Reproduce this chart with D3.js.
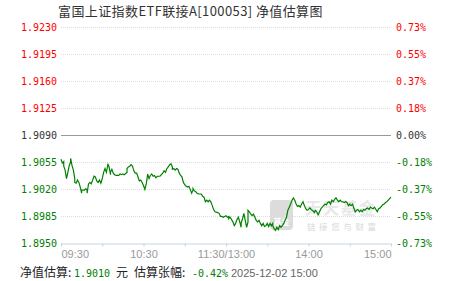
<!DOCTYPE html>
<html>
<head>
<meta charset="utf-8">
<script src="https://cdn.jsdelivr.net/npm/d3@7"></script>
<style>
  body { margin: 0; background: #fff; }
  .mono { font-family: "DejaVu Sans Mono", "Liberation Mono", monospace; }
  .cjk { font-family: "Noto Sans CJK SC", "Noto Sans", sans-serif; }
</style>
</head>
<body>
<div id="chart"></div>
<script>
// chart data
var title = "富国上证指数ETF联接A[100053] 净值估算图";
var baseNav = 1.9090;
var yTicks = [1.8950, 1.8985, 1.9020, 1.9055, 1.9090, 1.9125, 1.9160, 1.9195, 1.9230];
var xTicks = [0, 30, 60, 90, 120, 150, 180, 210, 240];
var xLabels = {0: "09:30", 60: "10:30", 120: "11:30/13:00", 180: "14:00", 240: "15:00"};

// trading minute since 09:30 (lunch break removed)
var minutes = [0,1,2,2,3,4,5,6,7,7,8,9,10,10,11,12,13,14,15,15,17,18,19,19,20,21,22,23,24,25,26,27,28,29,30,31,32,33,34,34,35,36,36,37,38,39,40,42,43,44,45,46,48,48,49,50,51,52,53,54,55,56,57,58,59,60,61,62,63,63,64,65,66,67,68,69,70,71,72,73,74,75,76,77,78,79,80,81,81,82,83,84,85,86,87,88,89,90,91,92,93,94,95,96,96,97,98,99,100,101,102,103,104,105,106,107,108,109,110,111,112,114,115,116,117,118,120,121,122,122,123,124,125,126,127,128,129,130,131,131,132,133,134,135,136,136,137,138,139,140,141,142,143,144,145,146,147,148,149,150,151,152,153,154,154,155,156,157,158,159,160,161,162,163,164,165,166,167,168,169,170,171,172,173,174,175,176,177,178,179,180,181,182,184,184,185,186,187,188,189,190,191,192,193,194,195,196,197,198,199,200,201,202,203,204,205,206,207,208,209,210,210,211,212,213,214,215,216,217,218,219,220,221,222,223,224,225,226,227,228,229,230,231,232,233,234,235,236,237,238,239,240];
var nav = [1.9059,1.9054,1.9056,1.9050,1.9045,1.9034,1.9042,1.9051,1.9055,1.9060,1.9051,1.9045,1.9034,1.9029,1.9028,1.9032,1.9029,1.9023,1.9015,1.9019,1.9019,1.9021,1.9019,1.9015,1.9027,1.9029,1.9027,1.9032,1.9037,1.9036,1.9031,1.9029,1.9032,1.9028,1.9034,1.9042,1.9047,1.9042,1.9051,1.9053,1.9049,1.9039,1.9042,1.9046,1.9041,1.9039,1.9038,1.9038,1.9040,1.9039,1.9040,1.9039,1.9042,1.9047,1.9049,1.9050,1.9052,1.9050,1.9044,1.9041,1.9041,1.9036,1.9031,1.9032,1.9029,1.9025,1.9020,1.9027,1.9039,1.9040,1.9034,1.9038,1.9040,1.9037,1.9038,1.9035,1.9037,1.9037,1.9037,1.9039,1.9041,1.9044,1.9042,1.9047,1.9049,1.9052,1.9053,1.9049,1.9046,1.9047,1.9045,1.9047,1.9046,1.9041,1.9038,1.9036,1.9029,1.9026,1.9024,1.9023,1.9024,1.9020,1.9015,1.9019,1.9021,1.9018,1.9017,1.9015,1.9014,1.9014,1.9014,1.9011,1.9010,1.9004,1.9006,1.9004,1.9006,1.9004,1.8999,1.8994,1.8991,1.8990,1.8989,1.8985,1.8985,1.8984,1.8986,1.8984,1.8985,1.8982,1.8984,1.8981,1.8978,1.8973,1.8976,1.8981,1.8984,1.8978,1.8971,1.8976,1.8982,1.8989,1.8980,1.8971,1.8978,1.8993,1.8991,1.8988,1.8986,1.8988,1.8984,1.8980,1.8978,1.8980,1.8976,1.8973,1.8976,1.8972,1.8973,1.8976,1.8972,1.8976,1.8973,1.8976,1.8973,1.8969,1.8967,1.8971,1.8968,1.8973,1.8971,1.8973,1.8976,1.8980,1.8984,1.8993,1.8997,1.9001,1.9006,1.9009,1.9006,1.9001,1.8998,1.8999,1.8997,1.9001,1.9004,1.8999,1.8995,1.8993,1.8994,1.8996,1.8994,1.8991,1.8989,1.8993,1.8991,1.8987,1.8991,1.8995,1.8997,1.8999,1.9001,1.9000,1.9003,1.9004,1.9001,1.9006,1.9004,1.9007,1.9009,1.9006,1.9004,1.9006,1.9004,1.9004,1.9003,1.9004,1.9003,1.8999,1.9001,1.9000,1.8999,1.9001,1.8996,1.8991,1.8993,1.8994,1.8991,1.8993,1.8991,1.8994,1.8993,1.8995,1.8996,1.8994,1.8997,1.8996,1.8995,1.8997,1.8994,1.8991,1.8995,1.8996,1.8998,1.9000,1.9001,1.9003,1.9004,1.9006,1.9008,1.9010];

// footer values
var lastNav = "1.9010";
var lastChange = "-0.42%";
var lastTime = "2025-12-02 15:00";

var svgWidth = 451;
var svgHeight = 281;
var plot = {left: 61, right: 391, top: 27, bottom: 243.5};

var red = "#ff0000", green = "#008000", dark = "#333";

var svg = d3.select("#chart")
  .append("svg")
  .attr("width", svgWidth)
  .attr("height", svgHeight);

var x = d3.scaleLinear().domain([0, 240]).range([plot.left, plot.right]);
var y = d3.scaleLinear().domain([1.8950, 1.9230]).range([plot.bottom, plot.top]);

function tickColor(v) {
  if (Math.abs(v - baseNav) < 1e-6) return dark;
  return v > baseNav ? red : green;
}

// title
svg.append("text")
  .attr("class", "cjk")
  .attr("x", 58)
  .attr("y", 16)
  .attr("font-size", 13)
  .attr("letter-spacing", 0.4)
  .attr("fill", "#333")
  .text(title);

// watermark
var wm = svg.append("g");
wm.append("rect")
  .attr("x", 270).attr("y", 200).attr("width", 23).attr("height", 30)
  .attr("rx", 4).attr("fill", "#dcdcdc");
wm.append("text")
  .attr("class", "cjk")
  .attr("x", 281.5).attr("y", 225)
  .attr("text-anchor", "middle")
  .attr("font-size", 8).attr("font-weight", "bold")
  .attr("fill", "#fff")
  .text("基金");
wm.append("text")
  .attr("class", "cjk")
  .attr("x", 305).attr("y", 214)
  .attr("font-size", 16).attr("font-weight", "bold")
  .attr("letter-spacing", 2)
  .attr("fill", "#e8e8e8")
  .text("天天基金");
wm.append("text")
  .attr("class", "cjk")
  .attr("x", 307).attr("y", 230)
  .attr("font-size", 8.5)
  .attr("letter-spacing", 3.6)
  .attr("fill", "#d8d8d8")
  .text("链接您与财富");

// grid lines
svg.append("g")
  .selectAll("line")
  .data(yTicks.filter(d => d > 1.8951))
  .enter()
  .append("line")
  .attr("x1", plot.left)
  .attr("x2", plot.right)
  .attr("y1", d => Math.round(y(d)) + 0.5)
  .attr("y2", d => Math.round(y(d)) + 0.5)
  .attr("stroke", d => Math.abs(d - baseNav) < 1e-6 ? "#999" : "#ddd")
  .attr("stroke-dasharray", d => Math.abs(d - baseNav) < 1e-6 ? null : "1,1");

// left axis
var leftAxis = svg.append("g")
  .attr("transform", `translate(${plot.left}, 0)`)
  .call(d3.axisLeft(y).tickValues(yTicks).tickSize(0).tickPadding(4).tickFormat(d3.format(".4f")));
leftAxis.select(".domain").remove();
leftAxis.selectAll("text")
  .attr("font-family", "DejaVu Sans Mono, monospace")
  .attr("font-size", 10)
  .attr("fill", d => tickColor(d));

// right axis (change vs. base nav)
var rightAxis = svg.append("g")
  .attr("transform", `translate(${plot.right}, 0)`)
  .call(d3.axisRight(y).tickValues(yTicks).tickSize(0).tickPadding(5)
    .tickFormat(d => ((d - baseNav) / baseNav * 100).toFixed(2) + "%"));
rightAxis.select(".domain").remove();
rightAxis.selectAll("text")
  .attr("font-family", "DejaVu Sans Mono, monospace")
  .attr("font-size", 10)
  .attr("fill", d => tickColor(d));

// bottom axis
var bottomAxis = svg.append("g")
  .attr("transform", `translate(0, ${plot.bottom})`)
  .call(d3.axisBottom(x).tickValues(xTicks).tickSize(3).tickPadding(4)
    .tickFormat(d => xLabels[d] || ""));
bottomAxis.select(".domain").attr("stroke", "#c5d3e0").attr("d", `M${plot.left},0.5H${plot.right}`);
bottomAxis.selectAll(".tick line").attr("stroke", "#c5d3e0");
bottomAxis.selectAll("text")
  .attr("font-family", "Liberation Sans, Arial, sans-serif")
  .attr("font-size", 11)
  .attr("fill", "#999")
  .attr("text-anchor", d => d === 0 ? "start" : (d === 240 ? "end" : "middle"));

// nav line
var line = d3.line()
  .x((d, i) => x(minutes[i]))
  .y(d => y(d));

svg.append("path")
  .datum(nav)
  .attr("fill", "none")
  .attr("stroke", green)
  .attr("stroke-width", 1.2)
  .attr("d", line);

// footer
var footer = svg.append("g").attr("font-size", 12);
footer.append("text").attr("class", "cjk").attr("x", 20).attr("y", 277).attr("fill", "#222").text("净值估算:");
footer.append("text").attr("class", "mono").attr("x", 74).attr("y", 276.5).attr("font-size", 10).attr("fill", green).text(lastNav);
footer.append("text").attr("class", "cjk").attr("x", 116).attr("y", 277).attr("fill", "#222").text("元");
footer.append("text").attr("class", "cjk").attr("x", 134).attr("y", 277).attr("fill", "#222").text("估算张幅:");
footer.append("text").attr("class", "mono").attr("x", 192).attr("y", 276.5).attr("font-size", 10).attr("fill", green).text(lastChange);
footer.append("text").attr("x", 231).attr("y", 276.5).attr("font-family", "Liberation Sans, Arial, sans-serif")
  .attr("font-size", 11).attr("fill", "#666").text(lastTime);
</script>
</body>
</html>
